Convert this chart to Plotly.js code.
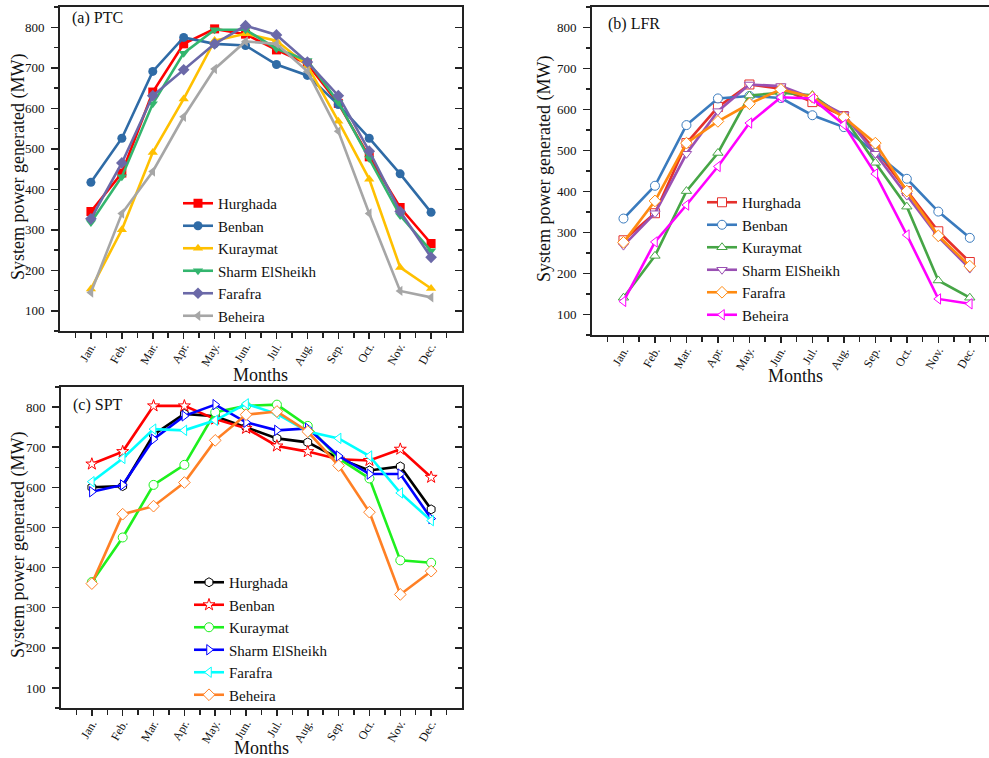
<!DOCTYPE html>
<html>
<head>
<meta charset="utf-8">
<script src="https://cdn.plot.ly/plotly-3.0.1.min.js"></script>
<style>html,body{margin:0;padding:0;background:#fff;}#chart{width:989px;height:758px;}</style>
</head>
<body>
<div id="chart"></div>
<script>
// ---- data ----
const months = ['Jan.', 'Feb.', 'Mar.', 'Apr.', 'May.', 'Jun.', 'Jul.', 'Aug.', 'Sep.', 'Oct.', 'Nov.', 'Dec.'];
const monthIndex = [1, 2, 3, 4, 5, 6, 7, 8, 9, 10, 11, 12];
const sites = ['Hurghada', 'Benban', 'Kuraymat', 'Sharm ElSheikh', 'Farafra', 'Beheira'];

// (a) PTC
const ptcHurghada = [345, 440, 640, 759, 796, 783, 744, 710, 612, 480, 355, 266];
const ptcBenban   = [417, 526, 691, 775, 759, 755, 708, 681, 609, 526, 438, 343];
const ptcKuraymat = [154, 300, 491, 623, 767, 784, 767, 705, 568, 425, 207, 155];
const ptcSharm    = [318, 431, 611, 736, 794, 794, 747, 718, 615, 476, 335, 248];
const ptcFarafra  = [327, 465, 631, 695, 759, 804, 781, 714, 631, 494, 345, 232];
const ptcBeheira  = [145, 340, 444, 579, 697, 765, 759, 691, 543, 340, 149, 133];

// (b) LFR
const lfrHurghada = [281, 347, 518, 606, 661, 651, 618, 584, 502, 401, 303, 228];
const lfrBenban   = [334, 414, 562, 627, 633, 628, 586, 557, 494, 431, 351, 287];
const lfrKuraymat = [141, 243, 401, 494, 634, 641, 635, 581, 470, 363, 183, 141];
const lfrSharm    = [268, 347, 492, 596, 661, 657, 628, 588, 492, 390, 289, 212];
const lfrFarafra  = [276, 377, 518, 571, 614, 649, 630, 581, 518, 401, 292, 218];
const lfrBeheira  = [132, 277, 367, 461, 567, 630, 627, 563, 443, 294, 138, 126];

// (c) SPT
const sptHurghada = [600, 603, 731, 783, 777, 750, 722, 712, 672, 642, 652, 545];
const sptBenban   = [658, 689, 803, 803, 770, 747, 703, 689, 670, 667, 695, 625];
const sptKuraymat = [364, 475, 606, 656, 787, 803, 806, 753, 672, 622, 418, 412];
const sptSharm    = [589, 606, 720, 778, 806, 762, 742, 747, 678, 633, 633, 522];
const sptFarafra  = [614, 672, 745, 742, 767, 808, 783, 739, 722, 678, 586, 517];
const sptBeheira  = [360, 533, 553, 612, 717, 781, 789, 739, 654, 538, 333, 391];

const yTickVals = [100, 200, 300, 400, 500, 600, 700, 800];
const xTitle = 'Months';
const yTitle = 'System power generated (MW)';

// ---- styles ----
const ptcColors = ['#FF0000', '#2F6BA6', '#FFC000', '#33B56E', '#6B69A8', '#A6A6A6'];
const ptcSymbols = ['square', 'circle', 'triangle-up', 'triangle-down', 'diamond', 'triangle-left'];
const lfrColors = ['#E5302C', '#3A7BBE', '#46A546', '#9A50B3', '#FF8A10', '#FF00FF'];
const lfrSymbols = ['square', 'circle', 'triangle-up', 'triangle-down', 'diamond', 'triangle-left'];
const sptColors = ['#000000', '#FF0000', '#1EF01E', '#0000FF', '#00FFFF', '#FF8025'];
const sptSymbols = ['hexagon', 'star', 'circle', 'triangle-right', 'triangle-left', 'diamond'];

const SERIF = '"Times New Roman", "Liberation Serif", serif';

function makeTraces(series, colors, symbols, open, xa, ya, legendName) {
  return series.map((vals, i) => ({
    type: 'scatter', mode: 'lines+markers',
    x: monthIndex, y: vals, name: sites[i],
    xaxis: xa, yaxis: ya, legend: legendName,
    line: {color: colors[i], width: 2.6},
    marker: open
      ? {symbol: symbols[i], size: 9, color: '#FFFFFF', line: {color: colors[i], width: 1}}
      : {symbol: symbols[i], size: 9, color: colors[i], line: {width: 0}},
    hoverinfo: 'x+y+name'
  }));
}

const traces = [].concat(
  makeTraces([ptcHurghada, ptcBenban, ptcKuraymat, ptcSharm, ptcFarafra, ptcBeheira], ptcColors, ptcSymbols, false, 'x', 'y', 'legend'),
  makeTraces([lfrHurghada, lfrBenban, lfrKuraymat, lfrSharm, lfrFarafra, lfrBeheira], lfrColors, lfrSymbols, true, 'x2', 'y2', 'legend2'),
  makeTraces([sptHurghada, sptBenban, sptKuraymat, sptSharm, sptFarafra, sptBeheira], sptColors, sptSymbols, true, 'x3', 'y3', 'legend3'),
  [
    {type: 'scatter', x: [], y: [], xaxis: 'x', yaxis: 'y4', showlegend: false, hoverinfo: 'skip'},
    {type: 'scatter', x: [], y: [], xaxis: 'x3', yaxis: 'y5', showlegend: false, hoverinfo: 'skip'}
  ]
);

function xAxis(domain, range, anchor) {
  return {
    domain: domain, range: range, anchor: anchor,
    tickmode: 'array', tickvals: monthIndex, ticktext: months, tickangle: -60,
    ticks: 'outside', ticklen: 6, tickwidth: 1.5, tickcolor: '#222',
    minor: {tickmode: 'array', tickvals: [0.5,1.5,2.5,3.5,4.5,5.5,6.5,7.5,8.5,9.5,10.5,11.5,12.5], ticks: 'outside', ticklen: 5, tickwidth: 1.5, tickcolor: '#222'},
    showline: true, linecolor: '#222', linewidth: 1.8, mirror: true,
    showgrid: false, zeroline: false, automargin: false,
    ticklabelstandoff: -4,
    tickfont: {family: SERIF, size: 12, color: '#111'}
  };
}
function yAxis(domain, anchor, mirror) {
  return {
    domain: domain, range: [50, 850], anchor: anchor,
    tickmode: 'array', tickvals: yTickVals,
    ticks: 'outside', ticklen: 7, tickwidth: 1.5, tickcolor: '#222',
    minor: {tickmode: 'linear', tick0: 50, dtick: 100, ticks: 'outside', ticklen: 4, tickwidth: 1.5, tickcolor: '#222'},
    showline: true, linecolor: '#222', linewidth: 1.8, mirror: mirror,
    showgrid: false, zeroline: false, automargin: false,
    ticklabelstandoff: 4,
    tickfont: {family: SERIF, size: 13, color: '#111'}
  };
}
function rightTicks(overlay, anchor) {
  return {
    overlaying: overlay, anchor: anchor, side: 'right', range: [50, 850],
    tickmode: 'array', tickvals: yTickVals,
    ticks: 'inside', ticklen: 7, tickwidth: 1.5, tickcolor: '#222',
    minor: {tickmode: 'linear', tick0: 50, dtick: 100, ticks: 'inside', ticklen: 4, tickwidth: 1.5, tickcolor: '#222'},
    showticklabels: false, showline: false, showgrid: false, zeroline: false, automargin: false
  };
}
function legendAt(px, py) {
  return {
    x: px / 989, y: 1 - py / 758, xanchor: 'left', yanchor: 'top',
    bgcolor: 'rgba(0,0,0,0)', borderwidth: 0,
    font: {family: SERIF, size: 15, color: '#111'},
    itemwidth: 30, tracegroupgap: 0
  };
}
function label(text, px, py, size) {
  return {text: text, xref: 'paper', yref: 'paper', x: px / 989, y: 1 - py / 758,
          xanchor: 'left', yanchor: 'middle',
          showarrow: false, font: {family: SERIF, size: size, color: '#111'}};
}
function centered(text, px, py, size, angle) {
  const a = label(text, px, py, size);
  a.xanchor = 'center';
  a.textangle = angle || 0;
  return a;
}

const layout = {
  width: 989, height: 758,
  margin: {l: 0, r: 0, t: 0, b: 0},
  paper_bgcolor: '#FFFFFF', plot_bgcolor: '#FFFFFF',
  showlegend: true,
  xaxis: xAxis([60/989, 462/989], [0, 13], 'y'),
  yaxis: yAxis([1 - 331/758, 1 - 7/758], 'x', true),
  xaxis2: xAxis([592/989, 1], [0, 12.61], 'y2'),
  yaxis2: yAxis([1 - 335/758, 1 - 7/758], 'x2', false),
  xaxis3: xAxis([61/989, 462/989], [0, 13], 'y3'),
  yaxis3: yAxis([1 - 708/758, 1 - 387/758], 'x3', true),
  yaxis4: rightTicks('y', 'x'),
  yaxis5: rightTicks('y3', 'x3'),
  legend: legendAt(178, 187),
  legend2: legendAt(702, 186),
  legend3: legendAt(189, 566),
  annotations: [
    label('(a) PTC', 70, 18, 16),
    label('(b) LFR', 606, 24, 16),
    label('(c) SPT', 71, 405, 16),
    centered(xTitle, 260, 375, 18),
    centered(xTitle, 795, 376, 18),
    centered(xTitle, 261, 748, 18),
    centered(yTitle, 18, 167, 18, -90),
    centered(yTitle, 545, 169, 18, -90),
    centered(yTitle, 18, 545, 18, -90)
  ]
};

Plotly.newPlot('chart', traces, layout, {displayModeBar: false, staticPlot: true});
</script>
</body>
</html>
